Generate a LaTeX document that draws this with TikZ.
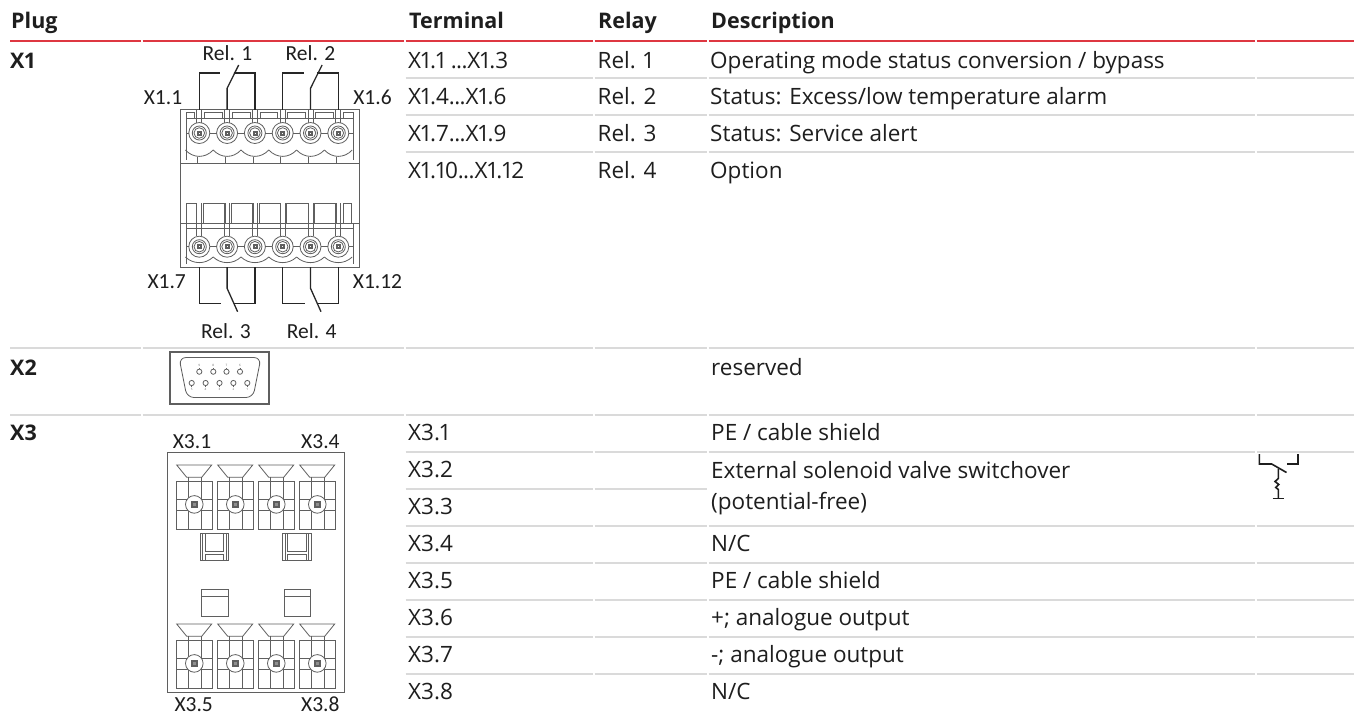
\documentclass[tikz,border=0pt]{standalone}
\usepackage{fontspec}
\setmainfont{Open Sans}[Numbers=Proportional]
\newfontfamily\calib{Carlito}
\definecolor{txt}{RGB}{30,30,30}
\definecolor{myred}{RGB}{222,55,65}
\definecolor{lgray}{RGB}{218,218,218}
\definecolor{pgray}{RGB}{95,95,95}
\tikzset{
  tab/.style={font=\fontsize{22.5}{26}\selectfont, anchor=base west, inner sep=0pt, text=txt},
  hdr/.style={font=\fontsize{21.5}{25}\selectfont\bfseries, anchor=base west, inner sep=0pt, text=txt},
  lbl/.style={font=\calib\fontsize{21.5}{25}\selectfont, anchor=base, inner sep=0pt, text=txt},
  pin/.style={font=\fontsize{3}{3}\selectfont, inner sep=0pt, text=pgray},
  redrule/.style={draw=myred, line width=2pt},
  grayrule/.style={draw=lgray, line width=1.7pt},
  part/.style={draw=pgray, line width=0.8pt},
  wire/.style={draw=black!85, line width=1.3pt},
  sym/.style={draw=txt, line width=1.6pt},
}
\newcommand\dts{.\kern-0.03em.\kern-0.03em.}
\newcommand\segrule[3]{% style, y, list of segments
  \foreach \a/\b in {#3} {\draw[#1] (\a,#2) -- (\b,#2);}}
\newcommand\xthreeunit[2]{% x0 (body left), y0 (funnel top)
  \draw[part] (#1,#2) -- (#1+35,#2) -- (#1+25,#2+12.3) -- (#1+10,#2+12.3) -- cycle;
  \draw[part] (#1,#2+16.5) rectangle (#1+35.6,#2+64);
  \draw[part] (#1+11.5,#2+12.3) -- (#1+11.5,#2+64);
  \draw[part] (#1+24.3,#2+12.3) -- (#1+24.3,#2+64);
  \draw[part] (#1,#2+34) -- (#1+35.6,#2+34);
  \draw[part] (#1,#2+45) -- (#1+35.6,#2+45);
  \draw[part,fill=white] (#1+17.6,#2+39.4) circle[radius=8.8pt];
  \draw[part] (#1+14.3,#2+36.1) rectangle (#1+20.9,#2+42.7);
  \draw[part,fill=pgray!70] (#1+15.8,#2+37.6) rectangle (#1+19.4,#2+41.2);
}
\newcommand\xoneterm[2]{% xc, yc
  \draw[part,fill=white] (#1,#2) circle[radius=10.5pt];
  \draw[part] (#1,#2) circle[radius=7pt];
  \draw[part] (#1,#2) circle[radius=5.3pt];
  \draw[part] (#1-2,#2-2) rectangle (#1+2,#2+2);
  \draw[part] (#1-1,#2-1) rectangle (#1+1,#2+1);
}
\begin{document}
\begin{tikzpicture}[x=1pt,y=-1pt]
\useasboundingbox (0,0) rectangle (1354,724);
\fill[white] (0,0) rectangle (1354,724);

% ---------------- table rules ----------------
\segrule{redrule}{41}{10/141.3,142.7/404.3,405.7/593.3,594.7/707.3,708.7/1255.3,1256.7/1354}
\foreach \yy in {78,115,152}{\segrule{grayrule}{\yy}{405.7/593.3,594.7/707.3,708.7/1255.3,1256.7/1354}}
\foreach \yy in {348,414.7}{\segrule{grayrule}{\yy}{10/141.3,142.7/404.3,405.7/593.3,594.7/707.3,708.7/1255.3,1256.7/1354}}
\foreach \yy in {451.7,526,563,600,637,674}{\segrule{grayrule}{\yy}{405.7/593.3,594.7/707.3,708.7/1255.3,1256.7/1354}}
\segrule{grayrule}{489}{405.7/593.3,594.7/707.3}

% ---------------- header ----------------
\node[hdr] (hPlug) at (11,28) {Plug};
\node[hdr] (hTerm) at (409,28) {Terminal};
\node[hdr] (hRelay) at (598,28) {Relay};
\node[hdr] (hDesc) at (711,28) {Description};

% ---------------- X1 rows ----------------
\node[hdr] (pX1) at (10,68.3) {X1};
\node[tab] (t11) at (408,68.3) {X1.1 \dts X1.3};
\node[tab] (r11) at (597.5,68.3) {Rel. 1};
\node[tab] (d11) at (710,68.3) {Operating mode status conversion / bypass};
\node[tab] (t12) at (408,104.5) {X1.4\dts X1.6};
\node[tab] (r12) at (597.5,104.5) {Rel. 2};
\node[tab] (d12) at (710,104.5) {Status: Excess/low temperature alarm};
\node[tab] (t13) at (408,141.5) {X1.7\dts X1.9};
\node[tab] (r13) at (597.5,141.5) {Rel. 3};
\node[tab] (d13) at (710,141.5) {Status: Service alert};
\node[tab] (t14) at (408,178.7) {X1.10\dts X1.12};
\node[tab] (r14) at (597.5,178.7) {Rel. 4};
\node[tab] (d14) at (710,178.7) {Option};

% ---------------- X2 row ----------------
\node[hdr] (pX2) at (10,375) {X2};
\node[tab] (d2) at (711,375) {reserved};

% ---------------- X3 rows ----------------
\node[hdr] (pX3) at (10,440) {X3};
\node[tab] (t31) at (408,440) {X3.1};
\node[tab] (t32) at (408,477) {X3.2};
\node[tab] (t33) at (408,514) {X3.3};
\node[tab] (t34) at (408,551) {X3.4};
\node[tab] (t35) at (408,588) {X3.5};
\node[tab] (t36) at (408,625) {X3.6};
\node[tab] (t37) at (408,662) {X3.7};
\node[tab] (t38) at (408,699) {X3.8};
\node[tab] (d31) at (711,440) {PE / cable shield};
\node[tab] (d32a) at (711,478) {External solenoid valve switchover};
\node[tab] (d32b) at (711,509) {(potential-free)};
\node[tab] (d34) at (711,551) {N/C};
\node[tab] (d35) at (711,588) {PE / cable shield};
\node[tab] (d36) at (711,625) {+; analogue output};
\node[tab] (d37) at (711,662) {-; analogue output};
\node[tab] (d38) at (711,699) {N/C};

% switch symbol
\draw[sym] (1259.3,454) -- (1259.3,464) -- (1271.7,464) -- (1286.5,472.5);
\draw[sym] (1287.3,464) -- (1297.7,464) -- (1297.7,454);
\draw[sym] (1278.3,468.8) -- (1278.3,478.5) -- (1275,481.5) -- (1278.8,484.5) -- (1275.8,487.5) -- (1278.3,489.5) -- (1278.3,498.3);
\draw[sym] (1272.7,498.3) -- (1284,498.3);

% ---------------- X1 connector drawing ----------------
\def\xlist{199.3,227.1,254.9,282.7,310.5,338.3}
\draw[part] (180,109.5) rectangle (359.5,267);
% upper block
\draw[part] (186.7,118) -- (353.3,118);
\draw[part] (186.7,112.5) rectangle (194.3,118);
\foreach \xc in {199.3,227.1,254.9,282.7,310.5}{\draw[part] (\xc+5,112.5) rectangle (\xc+22.8,118);}
\draw[part] (343.3,112.5) rectangle (353.3,118);
\draw[part] (186.7,118) -- (186.7,160);
\draw[part] (353.3,118) -- (353.3,160);
\foreach \xc in \xlist {
  \draw[part] (\xc-2.5,109.5) -- (\xc-2.5,123.5);
  \draw[part] (\xc+2.5,109.5) -- (\xc+2.5,123.5);
  \draw[part] (\xc-13.9,150) .. controls (\xc-6,158.5) and (\xc+6,158.5) .. (\xc+13.9,150);
  \draw[part] (\xc-2,156.5) -- (\xc-2,163);
  \xoneterm{\xc}{133}
}
\foreach \xc in {199.3,227.1,254.9,282.7,310.5}{\draw[part] (\xc+10.5,133) -- (\xc+17.3,133);}
\draw[part] (186.7,133) -- (188.8,133);
\draw[part] (348.8,133) -- (353.3,133);
\draw[part] (180,163) -- (359.5,163);
% lower block
\draw[part] (186.7,203) rectangle (196.7,223);
\foreach \xc in {199.3,227.1,254.9,282.7,310.5}{\draw[part] (\xc+4,203) rectangle (\xc+25.8,223);}
\draw[part] (343.3,203) rectangle (351.7,223);
\draw[part] (180,223) -- (359.5,223);
\draw[part] (186.7,228) -- (353.3,228);
\draw[part] (186.7,223) -- (186.7,264);
\draw[part] (353.3,223) -- (353.3,264);
\foreach \xc in \xlist {
  \draw[part] (\xc-2.5,203) -- (\xc-2.5,236.2);
  \draw[part] (\xc+2.5,203) -- (\xc+2.5,236.2);
  \draw[part] (\xc-13.9,257) .. controls (\xc-6,264.5) and (\xc+6,264.5) .. (\xc+13.9,257);
  \xoneterm{\xc}{246.7}
}
\foreach \xc in {199.3,227.1,254.9,282.7,310.5}{\draw[part] (\xc+10.5,246.7) -- (\xc+17.3,246.7);}
\draw[part] (186.7,246.7) -- (188.8,246.7);
\draw[part] (348.8,246.7) -- (353.3,246.7);

% relay contacts (top)
\foreach \ta/\tb/\tc in {199.3/227.1/254.9, 282.7/310.5/338.3}{
  \draw[wire] (\ta,109.5) -- (\ta,73) -- (\tb-7,73);
  \draw[wire] (\tb,109.5) -- (\tb,88.3) -- (\tb+11.6,65);
  \draw[wire] (\tb+6.6,73) -- (\tc,73) -- (\tc,109.5);
}
% relay contacts (bottom)
\foreach \ta/\tb/\tc in {199.3/227.1/254.9, 282.7/310.5/338.3}{
  \draw[wire] (\ta,267) -- (\ta,303.3) -- (\tb-6,303.3);
  \draw[wire] (\tb,267) -- (\tb,288.3) -- (\tb+10.5,311.7);
  \draw[wire] (\tb+6.6,303.3) -- (\tc,303.3) -- (\tc,267);
}
\node[lbl] (rel1) at (227.5,60) {Rel. 1};
\node[lbl] (rel2) at (310.5,60) {Rel. 2};
\node[lbl] (x11) at (163,104) {X1.1};
\node[lbl] (x16) at (372.5,104) {X1.6};
\node[lbl] (x17) at (166.7,288.3) {X1.7};
\node[lbl] (x112) at (377.5,288.3) {X1.12};
\node[lbl] (rel3) at (226,338.3) {Rel. 3};
\node[lbl] (rel4) at (311.7,338.3) {Rel. 4};

% ---------------- X2 connector (DB9) ----------------
\draw[draw=pgray, line width=1.4pt] (170,352) rectangle (269,404);
\draw[part, rounded corners=7pt] (179,357.5) -- (261,357.5) -- (253,397.5) -- (187,397.5) -- cycle;
\foreach \px/\nn in {199.3/9,213.3/8,226.5/7,240/6}{
  \draw[part] (\px,371.7) circle[radius=2.6pt];
  \draw[part,line width=0.5pt] (\px,369.1) -- (\px,367.6);
  \node[pin] (pa\nn) at (\px,365.4) {\nn};
}
\foreach \px/\nn in {191.7/5,205.6/4,219.5/3,233.4/2,247.3/1}{
  \draw[part] (\px,383) circle[radius=2.6pt];
  \draw[part,line width=0.5pt] (\px,385.6) -- (\px,387.1);
  \node[pin] (pb\nn) at (\px,389.4) {\nn};
}

% ---------------- X3 connector ----------------
\draw[part] (167.3,452.7) rectangle (344,692.3);
\foreach \ux in {176.7,217.7,258.7,299.7}{
  \xthreeunit{\ux}{465}
  \xthreeunit{\ux}{624}
}
\foreach \bx in {200,282.7}{
  \draw[part] (\bx,533.3) rectangle (\bx+28.5,560.7);
  \draw[part] (\bx+2.6,533.3) -- (\bx+2.6,560.7);
  \draw[part] (\bx+25.9,533.3) -- (\bx+25.9,560.7);
  \draw[part] (\bx+5,533.3) -- (\bx+5,551) -- (\bx+23.5,551) -- (\bx+23.5,533.3);
  \draw[part] (\bx+5,554) rectangle (\bx+23.5,560.7);
  \draw[part] (\bx+1.3,589) rectangle (\bx+28,616);
  \draw[part] (\bx+1.3,596.7) -- (\bx+28,596.7);
}
\node[lbl] (x31) at (192,448.3) {X3.1};
\node[lbl] (x34) at (320.4,448.3) {X3.4};
\node[lbl] (x35) at (193.7,711.7) {X3.5};
\node[lbl] (x38) at (320.3,711.7) {X3.8};
\end{tikzpicture}
\end{document}
